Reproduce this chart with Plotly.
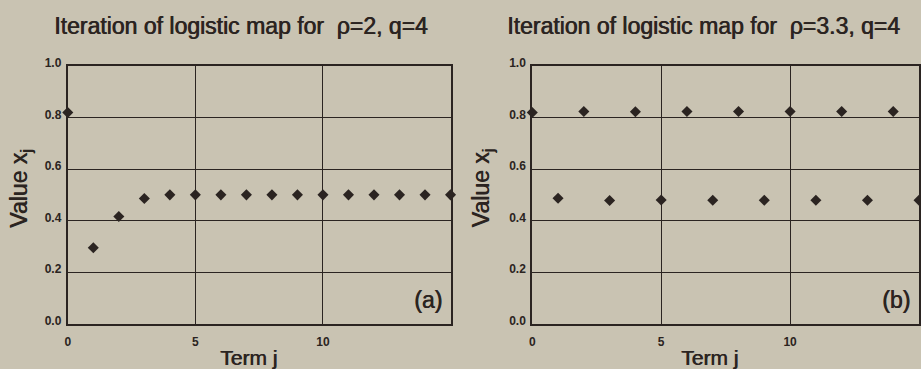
import plotly.graph_objects as go

# Iterates of the logistic map x_{j+1} = p * x_j * (1 - x_j)
terms = list(range(16))
x_rho2 = [0.82, 0.295, 0.416, 0.486, 0.500, 0.500, 0.500, 0.500,
          0.500, 0.500, 0.500, 0.500, 0.500, 0.500, 0.500, 0.500]
x_rho33 = [0.82, 0.487, 0.824, 0.478, 0.823, 0.480, 0.824, 0.479,
           0.824, 0.479, 0.824, 0.479, 0.824, 0.479, 0.824, 0.479]

titles = ["Iteration of logistic map for \u00a0\u03c1=2, q=4",
          "Iteration of logistic map for \u00a0\u03c1=3.3, q=4"]
panel_tags = ["(a)", "(b)"]
x_ticks = [0, 5, 10]
y_ticks = [0.0, 0.2, 0.4, 0.6, 0.8, 1.0]
y_tick_text = ["0.0", "0.2", "0.4", "0.6", "0.8", "1.0"]

BG = "#c9c3b2"
INK = "#2b2421"
FONT = "Liberation Sans, Arial, sans-serif"
HEAVY = f"0.7px 0 0 {INK}"  # slight thickening of the regular face
W, H = 921, 369

fig = go.Figure()

marker = dict(symbol="diamond", size=8.5, color=INK, line=dict(width=0))
fig.add_trace(go.Scatter(x=terms, y=x_rho2, mode="markers", marker=marker,
                         xaxis="x", yaxis="y", cliponaxis=False, showlegend=False))
fig.add_trace(go.Scatter(x=terms, y=x_rho33, mode="markers", marker=marker,
                         xaxis="x2", yaxis="y2", cliponaxis=False, showlegend=False))

ydom = [0.1165, 0.842]
xdoms = [[65 / W, 449 / W], [531 / W, 919 / W]]

tickfont = dict(family=FONT, size=12, color=INK, weight="bold")

def xaxis(dom, anchor):
    return dict(domain=dom, anchor=anchor, range=[0, 15], tickvals=x_ticks,
                ticktext=[str(v) for v in x_ticks], showgrid=True,
                gridcolor=INK, gridwidth=1.4, zeroline=False, showline=True,
                linecolor=INK, linewidth=2, mirror=True, ticks="",
                ticklabelstandoff=6, tickfont=tickfont)

def yaxis(anchor):
    return dict(domain=ydom, anchor=anchor, range=[0, 1], tickvals=y_ticks,
                ticktext=y_tick_text, showgrid=True, gridcolor=INK,
                gridwidth=1.4, zeroline=False, showline=True, linecolor=INK,
                linewidth=2, mirror=True, ticks="", ticklabelshift=-3,
                ticklabelstandoff=2, tickfont=tickfont)

def label_font(size):
    return dict(family=FONT, size=size, color=INK, shadow=HEAVY)

annotations = []
title_x = [239, 703]
xlabel_x = [246, 709]
ylabel_x = [18, 482]
for title, tag, tx, lx, yx, xref, yref in zip(titles, panel_tags, title_x,
                                              xlabel_x, ylabel_x,
                                              ["x", "x2"], ["y", "y2"]):
    annotations.append(dict(text=title, xref="paper", yref="paper",
                            x=tx / W, y=(H - 17) / H,
                            xanchor="center", yanchor="middle", showarrow=False,
                            font=label_font(23)))
    annotations.append(dict(text="Term j", xref="paper", yref="paper",
                            x=lx / W, y=(H - 361) / H,
                            xanchor="center", yanchor="middle", showarrow=False,
                            font=label_font(21)))
    annotations.append(dict(text="Value x<sub>j</sub>", xref="paper",
                            yref="paper", x=yx / W, y=(H - 185) / H,
                            textangle=-90, xanchor="center", yanchor="middle",
                            showarrow=False, font=label_font(23)))
    annotations.append(dict(text=tag, xref=xref, yref=yref, x=14.1, y=0.09,
                            xanchor="center", yanchor="middle", showarrow=False,
                            font=label_font(23)))

fig.update_layout(
    width=W, height=H, margin=dict(l=0, r=0, t=0, b=0),
    paper_bgcolor=BG, plot_bgcolor=BG,
    xaxis=xaxis(xdoms[0], "y"), yaxis=yaxis("x"),
    xaxis2=xaxis(xdoms[1], "y2"), yaxis2=yaxis("x2"),
    annotations=annotations,
)

fig.write_html("out.html")
